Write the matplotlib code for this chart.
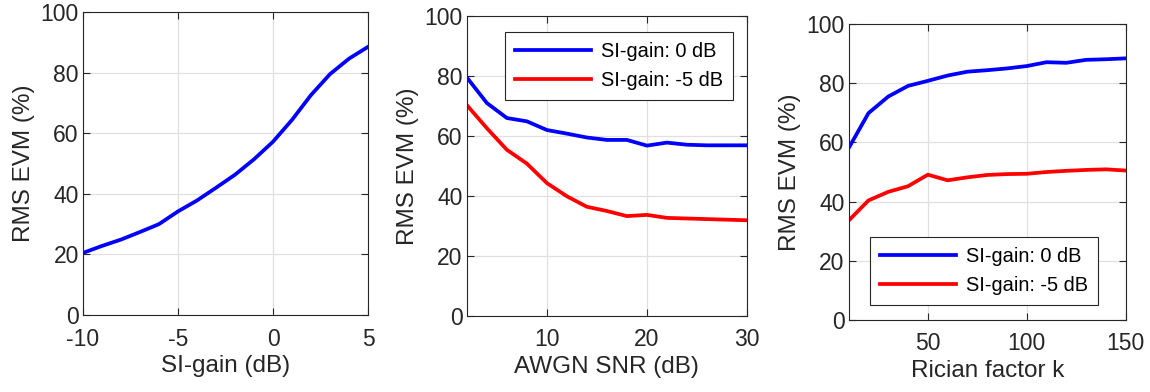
import matplotlib
matplotlib.use("Agg")
import matplotlib.pyplot as plt

plt.rcParams['font.family'] = ['Liberation Sans', 'DejaVu Sans']
plt.rcParams['axes.unicode_minus'] = False

# -------- Data --------
si_gain = [-10, -9, -8, -7, -6, -5, -4, -3, -2, -1, 0, 1, 2, 3, 4, 5]
evm_si = [20.5, 22.8, 24.9, 27.4, 30.0, 34.2, 37.8, 42.0, 46.3, 51.4, 57.2, 64.4, 72.6, 79.5, 84.6, 88.5]

snr = [2, 4, 6, 8, 10, 12, 14, 16, 18, 20, 22, 24, 26, 28, 30]
evm_snr_0 = [79.5, 71.0, 66.0, 64.9, 62.0, 60.8, 59.5, 58.7, 58.7, 56.8, 57.8, 57.1, 56.9, 56.9, 56.9]
evm_snr_m5 = [70.3, 62.6, 55.4, 50.8, 44.3, 39.9, 36.4, 35.0, 33.3, 33.7, 32.7, 32.5, 32.3, 32.1, 31.9]

rician_k = [10, 20, 30, 40, 50, 60, 70, 80, 90, 100, 110, 120, 130, 140, 150]
evm_k_0 = [58.1, 69.9, 75.5, 79.1, 80.8, 82.6, 83.9, 84.4, 85.0, 85.8, 87.1, 86.9, 87.9, 88.1, 88.4]
evm_k_m5 = [33.6, 40.4, 43.3, 45.2, 49.1, 47.2, 48.2, 49.0, 49.3, 49.4, 50.0, 50.4, 50.7, 50.9, 50.5]

labels = ["SI-gain: 0 dB", "SI-gain: -5 dB"]

TEXT = "#262626"
LW = 2.7
TICK_FS = 16.5
LABEL_FS = 17.5
LEG_FS = 14.4


def style(ax):
    ax.set_ylim(0, 100)
    ax.set_yticks([0, 20, 40, 60, 80, 100])
    ax.grid(True, color="#e0e0e0", linewidth=0.9)
    ax.set_axisbelow(True)
    ax.tick_params(direction="in", top=True, right=True, labelsize=TICK_FS,
                   colors=TEXT, length=5, width=0.8)
    ax.tick_params(axis="x", pad=9)
    ax.tick_params(axis="y", pad=3)
    for s in ax.spines.values():
        s.set_color(TEXT)
        s.set_linewidth(0.8)
    ax.set_ylabel("RMS EVM (%)", fontsize=LABEL_FS, color=TEXT, labelpad=4)


def legend(ax, loc, anchor):
    leg = ax.legend(loc=loc, bbox_to_anchor=anchor, fontsize=LEG_FS,
                    fancybox=False, edgecolor=TEXT, framealpha=1,
                    handlelength=3.8, handletextpad=0.5, borderpad=0.5,
                    labelspacing=0.5, borderaxespad=0)
    leg.get_frame().set_linewidth(0.8)


fig = plt.figure(figsize=(11.5, 3.92), dpi=100)

# -------- Panel 1 --------
ax1 = fig.add_axes([0.0722, 0.1964, 0.2478, 0.773])
ax1.plot(si_gain, evm_si, color="blue", linewidth=LW)
ax1.set_xlim(-10, 5)
ax1.set_xticks([-10, -5, 0, 5])
style(ax1)
ax1.set_xlabel("SI-gain (dB)", fontsize=LABEL_FS, color=TEXT, labelpad=3)

# -------- Panel 2 --------
ax2 = fig.add_axes([0.406, 0.194, 0.2435, 0.765])
ax2.plot(snr, evm_snr_0, color="blue", linewidth=LW, label=labels[0])
ax2.plot(snr, evm_snr_m5, color="red", linewidth=LW, label=labels[1])
ax2.set_xlim(2, 30)
ax2.set_xticks([10, 20, 30])
style(ax2)
ax2.set_xlabel("AWGN SNR (dB)", fontsize=LABEL_FS, color=TEXT, labelpad=3)
legend(ax2, "upper right", (0.95, 0.947))

# -------- Panel 3 --------
ax3 = fig.add_axes([0.738, 0.1837, 0.2409, 0.755])
ax3.plot(rician_k, evm_k_0, color="blue", linewidth=LW, label=labels[0])
ax3.plot(rician_k, evm_k_m5, color="red", linewidth=LW, label=labels[1])
ax3.set_xlim(10, 150)
ax3.set_xticks([50, 100, 150])
style(ax3)
ax3.set_xlabel("Rician factor k", fontsize=LABEL_FS, color=TEXT, labelpad=3)
legend(ax3, "lower right", (0.899, 0.05))

fig.savefig("out.png", dpi=100)
